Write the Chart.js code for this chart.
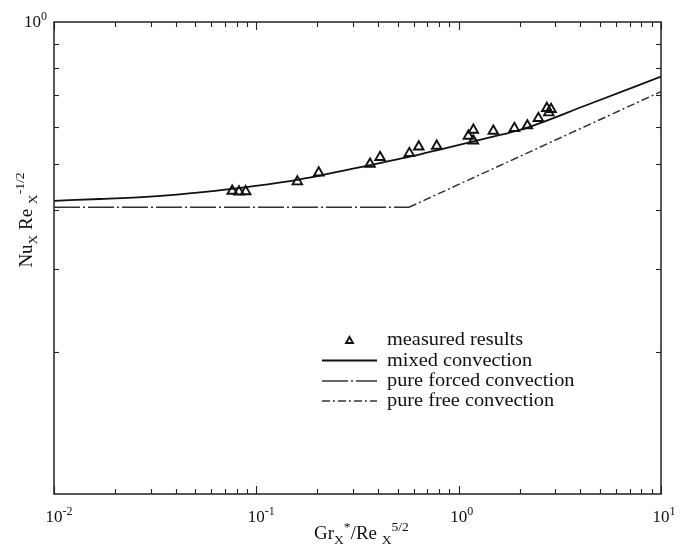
<!DOCTYPE html>
<html>
<head>
<meta charset="utf-8">
<script src="https://cdn.jsdelivr.net/npm/chart.js@4/dist/chart.umd.min.js"></script>
<style>
  html, body { margin: 0; padding: 0; background: #fff; }
  #wrap { width: 680px; height: 550px; position: relative; }
</style>
</head>
<body>
<div id="wrap"><canvas id="c"></canvas></div>
<script>
// ---- data ----
const measuredX = [0.076, 0.0821, 0.0886, 0.1595, 0.2035, 0.3648, 0.4088, 0.5705, 0.635, 0.779,
                   1.117, 1.182, 1.182, 1.484, 1.885, 2.186, 2.477, 2.726, 2.862, 2.79];
const measuredY = [0.4385, 0.437, 0.4375, 0.459, 0.4793, 0.5003, 0.5168, 0.527, 0.5443, 0.5462,
                   0.5735, 0.5905, 0.5604, 0.5876, 0.5954, 0.6031, 0.6252, 0.6565, 0.6535, 0.6427];
const mixedX = [0.01, 0.0169, 0.0298, 0.0527, 0.1644, 0.3648, 0.644, 1.602, 2.012, 4.30, 10];
const mixedY = [0.418, 0.4217, 0.4268, 0.4356, 0.4642, 0.4977, 0.5244, 0.5763, 0.5905, 0.667, 0.766];
const forcedX = [0.01, 0.568];
const forcedY = [0.405, 0.405];
const freeX = [0.568, 10];
const freeY = [0.405, 0.712];

const seriesLabels = ['measured results', 'mixed convection', 'pure forced convection', 'pure free convection'];

const xMajorTicks = [0.01, 0.1, 1, 10];
const xTickExponents = ['-2', '-1', '0', '1'];
const xMinorTicks = [0.02,0.03,0.04,0.05,0.06,0.07,0.08,0.09,
                     0.2,0.3,0.4,0.5,0.6,0.7,0.8,0.9,
                     2,3,4,5,6,7,8,9];
const yMajorTicks = [0.1, 1];
const yLabelledTicks = [1];
const yTickExponents = ['0'];
const yMinorTicks = [0.2,0.3,0.4,0.5,0.6,0.7,0.8,0.9];

const xTitleParts = [['Gr',0],['X',-1],['*',1],['/Re',0],[' ',0],['X',-1],['5/2',1]];
const yTitleParts = [['Nu',0],['X',-1],[' Re',0],[' ',0],['X',-1],['-1/2',1]];

const pts = (xs, ys) => xs.map((x, i) => ({x: x, y: ys[i]}));
const SERIF = '"Liberation Serif", "Times New Roman", serif';

// draw text made of normal / subscript / superscript parts
function richWidth(ctx, parts, size, subSize, sx) {
  let w = 0;
  for (const [t, s] of parts) {
    ctx.font = (s === 0 ? size : subSize) + 'px ' + SERIF;
    w += ctx.measureText(t).width * sx;
  }
  return w;
}
function drawRich(ctx, parts, x, y, size, subSize, sx, align) {
  const w = richWidth(ctx, parts, size, subSize, sx);
  let cx = align === 'center' ? x - w / 2 : (align === 'right' ? x - w : x);
  ctx.textBaseline = 'alphabetic';
  ctx.textAlign = 'left';
  for (const [t, s] of parts) {
    ctx.font = (s === 0 ? size : subSize) + 'px ' + SERIF;
    const dy = s === 0 ? 0 : (s < 0 ? size * 0.28 : -size * 0.42);
    ctx.save();
    ctx.translate(cx, y + dy);
    ctx.scale(sx, 1);
    ctx.fillText(t, 0, 0);
    ctx.restore();
    cx += ctx.measureText(t).width * sx;
  }
}

const axesPlugin = {
  id: 'axesPlugin',
  afterDatasetsDraw(chart) {
    const ctx = chart.ctx;
    const a = chart.chartArea;
    const xs = chart.scales.x, ys = chart.scales.y;
    ctx.save();
    ctx.strokeStyle = '#222';
    ctx.fillStyle = '#111';
    ctx.lineWidth = 1.5;
    ctx.strokeRect(a.left, a.top, a.right - a.left, a.bottom - a.top);
    ctx.lineWidth = 1.1;
    const tick = (x1, y1, x2, y2) => { ctx.beginPath(); ctx.moveTo(x1, y1); ctx.lineTo(x2, y2); ctx.stroke(); };
    for (const v of xMinorTicks) {
      const px = Math.round(xs.getPixelForValue(v)) + 0.5;
      tick(px, a.bottom, px, a.bottom - 5);
      tick(px, a.top, px, a.top + 5);
    }
    for (const v of xMajorTicks) {
      const px = Math.round(xs.getPixelForValue(v)) + 0.5;
      tick(px, a.bottom, px, a.bottom - 8);
      tick(px, a.top, px, a.top + 8);
    }
    for (const v of yMinorTicks) {
      const py = Math.round(ys.getPixelForValue(v)) + 0.5;
      tick(a.left, py, a.left + 5, py);
      tick(a.right, py, a.right - 5, py);
    }
    // tick labels
    xMajorTicks.forEach((v, i) => {
      const px = xs.getPixelForValue(v);
      ctx.font = '17px ' + SERIF;
      const w10 = ctx.measureText('10').width;
      drawRich(ctx, [['10',0],[xTickExponents[i],1]], px - w10 / 2, a.bottom + 28, 17, 12, 1, 'left');
    });
    yLabelledTicks.forEach((v, i) => {
      const py = ys.getPixelForValue(v);
      drawRich(ctx, [['10',0],[yTickExponents[i],1]], a.left - 7, py + 5, 17, 12, 1, 'right');
    });
    // axis titles
    drawRich(ctx, xTitleParts, (a.left + a.right) / 2 + 4, a.bottom + 45, 18, 13, 1.05, 'center');
    ctx.save();
    ctx.translate(a.left - 22, 220);
    ctx.rotate(-Math.PI / 2);
    drawRich(ctx, yTitleParts, 0, 0, 18, 13, 1.05, 'center');
    ctx.restore();
    ctx.restore();
  }
};

const legendPlugin = {
  id: 'legendPlugin',
  afterDraw(chart) {
    const ctx = chart.ctx;
    const x0 = 322, x1 = 377, tx = 387;
    const rows = [340, 360.5, 381, 401];
    ctx.save();
    chart.data.datasets.forEach((ds, i) => {
      const y = rows[i];
      ctx.strokeStyle = ds.borderColor;
      ctx.lineWidth = ds.borderWidth;
      if (ds.showLine === false) {
        ctx.setLineDash([]);
        ctx.fillStyle = 'rgba(0,0,0,0)';
        Chart.helpers.drawPoint(ctx, {pointStyle: 'triangle', radius: 4, borderWidth: 1.8, rotation: 0}, (x0 + x1) / 2, y + 1);
      } else {
        ctx.setLineDash(ds.borderDash || []);
        ctx.beginPath();
        ctx.moveTo(x0, y);
        ctx.lineTo(x1, y);
        ctx.stroke();
      }
      ctx.setLineDash([]);
      ctx.fillStyle = '#111';
      drawRich(ctx, [[ds.label, 0]], tx, y + 5, 18, 13, 1.13, 'left');
    });
    ctx.restore();
  }
};

new Chart(document.getElementById('c'), {
  type: 'scatter',
  data: {
    datasets: [
      {
        label: seriesLabels[0],
        data: pts(measuredX, measuredY),
        showLine: false,
        pointStyle: 'triangle',
        pointRadius: 5.5,
        borderWidth: 1.9,
        borderColor: '#111',
        backgroundColor: 'rgba(255,255,255,0)',
        order: 0
      },
      {
        label: seriesLabels[1],
        data: pts(mixedX, mixedY),
        showLine: true,
        pointRadius: 0,
        borderColor: '#111',
        borderWidth: 1.8,
        cubicInterpolationMode: 'monotone',
        fill: false,
        order: 1
      },
      {
        label: seriesLabels[2],
        data: pts(forcedX, forcedY),
        showLine: true,
        pointRadius: 0,
        borderColor: '#333',
        borderWidth: 1.5,
        borderDash: [26, 3, 2, 3],
        fill: false,
        order: 2
      },
      {
        label: seriesLabels[3],
        data: pts(freeX, freeY),
        showLine: true,
        pointRadius: 0,
        borderColor: '#333',
        borderWidth: 1.5,
        borderDash: [8, 3, 2, 3],
        fill: false,
        order: 3
      }
    ]
  },
  options: {
    responsive: true,
    maintainAspectRatio: false,
    animation: false,
    layout: { padding: { left: 54, right: 19, top: 22, bottom: 56 } },
    plugins: { legend: { display: false }, tooltip: { enabled: false } },
    scales: {
      x: { type: 'logarithmic', min: 0.01, max: 10, display: false },
      y: { type: 'logarithmic', min: 0.1, max: 1, display: false }
    }
  },
  plugins: [axesPlugin, legendPlugin]
});
</script>
</body>
</html>
